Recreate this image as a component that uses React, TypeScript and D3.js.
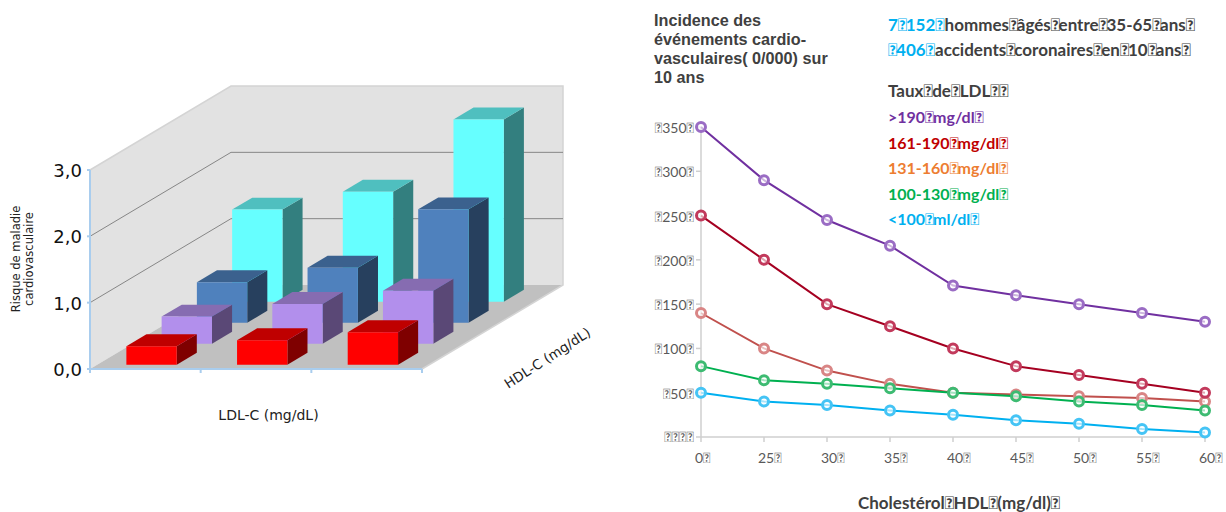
import React from "react";
import * as d3 from "d3";

const T = "\uF020";
// left chart data
const rowNames = ["red", "purple", "blue", "cyan"];
const redVals = [0.28, 0.37, 0.49];
const purpleVals = [0.41, 0.6, 0.8];
const blueVals = [0.61, 0.83, 1.71];
const cyanVals = [1.39, 1.66, 2.75];
const risk3d = [redVals, purpleVals, blueVals, cyanVals];
const faceColors = [
  ["#FF0000", "#BF0000", "#7F0000"],
  ["#B28FEC", "#866CB1", "#5A4876"],
  ["#4F81BD", "#3B618E", "#27405E"],
  ["#66FFFF", "#4FBFBF", "#337F7F"],
];
const yTicks3d = [0, 1, 2, 3];
// right chart data
const hdlLabels = ["0", "25", "30", "35", "40", "45", "50", "55", "60"];
const gt190 = [350, 290, 245, 216, 171, 160, 150, 140, 130];
const s161 = [250, 200, 150, 125, 100, 80, 70, 60, 50];
const s131 = [140, 100, 75, 60, 50, 48, 46, 44, 40];
const s100 = [80, 64, 60, 55, 50, 46, 40, 36, 30];
const lt100 = [50, 40, 36, 30, 25, 19, 15, 9, 5];
const lineSeries = [
  { v: gt190, c: "#7030A0", m: "#9A6CC4" },
  { v: s131, c: "#C0504D", m: "#D98585" },
  { v: s161, c: "#A50021", m: "#C23A5C" },
  { v: s100, c: "#00B050", m: "#3DBB72" },
  { v: lt100, c: "#00B0F0", m: "#45C4F5" },
];
const yTicks = [50, 100, 150, 200, 250, 300, 350];
const legend = [
  [">190", "mg/dl", "#7030A0"],
  ["161-190", "mg/dl", "#C00000"],
  ["131-160", "mg/dl", "#ED7D31"],
  ["100-130", "mg/dl", "#00B050"],
  ["<100", "ml/dl", "#00B0F0"],
];
const lato = "Lato, sans-serif";
const dj = "'DejaVu Sans', sans-serif";
const lib = "'Liberation Sans', Arial, sans-serif";

const xS = d3.scaleLinear().domain([0, 3]).range([90, 422]);
const yS = d3.scaleLinear().domain([0, 3]).range([369, 170]);
const zX = d3.scaleLinear().domain([0, 4]).range([0, 141]);
const zY = d3.scaleLinear().domain([0, 4]).range([0, -84]);
const P = (x: number, y: number, z: number) => [xS(x) + zX(z), yS(y) + zY(z)];
const poly = (pts: number[][]) => pts.map((p) => p.join(",")).join(" ");

const px = d3.scalePoint<string>().domain(hdlLabels).range([701, 1205]);
const py = d3.scaleLinear().domain([0, 350]).range([437, 127]);
const lineGen = d3.line<number>().x((_, i) => px(hdlLabels[i])!).y((d) => py(d));

// placeholder glyphs overlap their neighbours: pull the following text back
function tight(s: string, k: number, first = 0) {
  const parts = s.split(T);
  return parts.map((p, i) => (
    <tspan key={i} dx={i === 0 ? first : -k}>{i < parts.length - 1 ? p + T : p}</tspan>
  ));
}

function Bar3d({ col, row, v }: { col: number; row: number; v: number }) {
  const x0 = col + 0.265, x1 = x0 + 0.455, z0 = row + 0.2, z1 = z0 + 0.57;
  const [f, t, s] = faceColors[row];
  return (
    <g>
      <polygon fill={s} points={poly([P(x1, 0, z0), P(x1, 0, z1), P(x1, v, z1), P(x1, v, z0)])} />
      <polygon fill={t} points={poly([P(x0, v, z0), P(x1, v, z0), P(x1, v, z1), P(x0, v, z1)])} />
      <polygon fill={f} points={poly([P(x0, 0, z0), P(x1, 0, z0), P(x1, v, z0), P(x0, v, z0)])} />
    </g>
  );
}

export default function App() {
  return (
    <svg width={1226} height={512} style={{ position: "absolute", left: 0, top: 0, background: "#fff" }}>
      {/* 3D chart */}
      <polygon fill="#E2E2E2" points={poly([P(0, 0, 0), P(0, 3, 0), P(0, 3, 4), P(0, 0, 4)])} />
      <polygon fill="#E2E2E2" points={poly([P(0, 0, 4), P(0, 3, 4), P(3, 3, 4), P(3, 0, 4)])} />
      <polygon fill="#C0C0C0" points={poly([P(0, 0, 0), P(3, 0, 0), P(3, 0, 4), P(0, 0, 4)])} />
      <polyline fill="none" stroke="#D4D4D4" strokeWidth={1.5}
        points={poly([P(0, 3, 0), P(0, 3, 4), P(3, 3, 4), P(3, 0, 4), P(3, 0, 0)])} />
      {[1, 2].map((t) => (
        <polyline key={t} fill="none" stroke="#868686" strokeWidth={1}
          points={poly([P(0, t, 0), P(0, t, 4), P(3, t, 4)])} />
      ))}
      {d3.range(3, -1, -1).map((r) =>
        risk3d[r].map((v, c) => <Bar3d key={rowNames[r] + c} col={c} row={r} v={v} />)
      )}
      <g stroke="#A9CDEE" strokeWidth={2} fill="none">
        <line x1={xS(0)} y1={yS(0)} x2={xS(0)} y2={yS(3)} />
        <line x1={xS(0)} y1={yS(0)} x2={xS(3)} y2={yS(0)} />
        {yTicks3d.map((t) => <line key={t} x1={xS(0) - 3} x2={xS(0)} y1={yS(t)} y2={yS(t)} />)}
        {[0, 1, 2, 3].map((t) => <line key={t} x1={xS(t)} x2={xS(t)} y1={yS(0)} y2={yS(0) + 4} />)}
      </g>
      {yTicks3d.map((t) => (
        <text key={t} x={82} y={yS(t) + 7} textAnchor="end" fontFamily={dj} fontSize={18} fill="#111">
          {t.toFixed(1).replace(".", ",")}
        </text>
      ))}
      <text fontFamily={dj} fontSize={11.5} fill="#222" textAnchor="middle" transform="translate(20,259) rotate(-90)">Risque de maladie</text>
      <text fontFamily={dj} fontSize={11.5} fill="#222" textAnchor="middle" transform="translate(33,259) rotate(-90)">cardiovasculaire</text>
      <text x={268.5} y={420} fontFamily={dj} fontSize={14} fill="#222" textAnchor="middle">LDL-C (mg/dL)</text>
      <text fontFamily={dj} fontSize={13.5} fill="#222" textAnchor="middle" transform="translate(550,362) rotate(-33)">HDL-C (mg/dL)</text>

      {/* line chart heading */}
      <g fontFamily={lib} fontWeight="bold" fontSize={16.2} fill="#404040">
        {["Incidence des", "événements cardio-", "vasculaires( 0/000) sur", "10 ans"].map((s, i) => (
          <text key={i} x={654} y={26 + i * 19}>{s}</text>
        ))}
      </g>
      <g fontFamily={lato} fontWeight="bold" fontSize={17}>
        <text x={888} y={31} fill="#404040">
          <tspan fill="#00B0F0">{tight(`7${T}152${T}`, 1.5)}</tspan>
          <tspan dx={-1.5}>{tight(`hommes${T}âgés${T}entre${T}35-65${T}ans${T}`, 1.5)}</tspan>
        </text>
        <text x={888} y={56} fill="#404040">
          <tspan fill="#00B0F0">{tight(`${T}406${T}`, 1.2)}</tspan>
          <tspan dx={-1.2}>{tight(`accidents${T}coronaires${T}en${T}10${T}ans${T}`, 1.2)}</tspan>
        </text>
        <text x={888} y={97} fill="#404040">{tight(`Taux${T}de${T}LDL${T}${T}`, 0.5)}</text>
      </g>
      <g fontFamily={lato} fontWeight="bold" fontSize={16}>
        {legend.map(([a, b, c], i) => (
          <text key={a} x={888} y={123 + i * 25.5} fill={c}>{tight(`${a}${T}${b}${T}`, 0.8)}</text>
        ))}
      </g>

      {/* axes */}
      <g stroke="#CFCFCF" strokeWidth={1.5}>
        <line x1={701} x2={701} y1={py(350)} y2={py(0)} />
        <line x1={701} x2={1205} y1={py(0)} y2={py(0)} />
        {[0, ...yTicks].map((t) => <line key={t} x1={696} x2={701} y1={py(t)} y2={py(t)} />)}
        {hdlLabels.map((l) => <line key={l} x1={px(l)} x2={px(l)} y1={py(0)} y2={py(0) + 5} />)}
      </g>
      <g fontFamily={lato} fontSize={14} fill="#595959">
        {yTicks.map((t) => (
          <text key={t} x={694} y={py(t) + 6} textAnchor="end">{`${T}${t}${T}`}</text>
        ))}
        <text x={694} y={442} textAnchor="end">{`${T}${T}${T}${T}`}</text>
        {hdlLabels.map((l) => (
          <text key={l} x={px(l)! - 6} y={463}>{`${l}${T}`}</text>
        ))}
      </g>
      <text x={858} y={509} fontFamily={lato} fontWeight="bold" fontSize={17} fill="#404040">{tight(`Cholestérol${T}HDL${T}(mg/dl)${T}`, 0.5)}</text>

      {/* series */}
      {lineSeries.map((s, i) => (
        <g key={i}>
          <path d={lineGen(s.v)!} fill="none" stroke={s.c} strokeWidth={2} />
          {s.v.map((d, j) => (
            <circle key={j} cx={px(hdlLabels[j])} cy={py(d)} r={4.5} fill="#fff" fillOpacity={0.65} stroke={s.m} strokeWidth={3} />
          ))}
        </g>
      ))}
    </svg>
  );
}
